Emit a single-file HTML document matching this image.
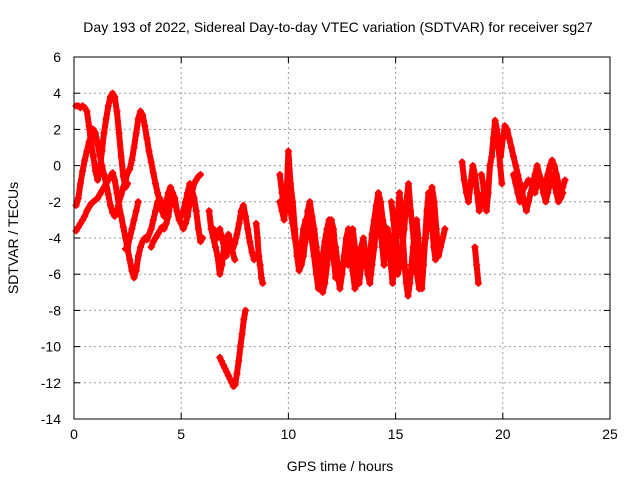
<!DOCTYPE html>
<html><head><meta charset="utf-8"><style>
body{margin:0;background:#fff;}
svg{display:block;font-family:"Liberation Sans",sans-serif;}
</style></head><body>
<svg id="chart" width="640" height="480">
<text x="338" y="32" font-size="14" text-anchor="middle">Day 193 of 2022, Sidereal Day-to-day VTEC variation (SDTVAR) for receiver sg27</text>
<text x="340" y="471" font-size="14" text-anchor="middle">GPS time / hours</text>
<text transform="translate(18,238) rotate(-90)" font-size="14" text-anchor="middle">SDTVAR / TECUs</text>
<g id="grid"></g><g id="marks"></g>
<rect x="74" y="57" width="536" height="362" fill="none" stroke="#000"/>
</svg>
<script>
const xTicks=[0,5,10,15,20,25];
const yTicks=[-14,-12,-10,-8,-6,-4,-2,0,2,4,6];
const trackStarts=[0.1,0.1,0.1,3.6,2.4,6.3,6.5,6.8,8.5,9.6,9.6,12.2,12.3,14.3,14.8,18.1,18.7,19.0,19.9,20.5];
const trackSteps=[0.1,0.1,0.1,0.1,0.1,0.1,0.1,0.08,0.06,0.1,0.1,0.1,0.1,0.08,0.1,0.1,0.08,0.08,0.1,0.1];
const track0=[3.3,3.3,3.2,3.3,3.2,3.0,2.2,1.2,0.5,-0.3,-0.8,-0.3,0.8,1.8,2.6,3.3,3.8,4.0,3.8,3.0,1.8,0.5,-0.6,-1.2,-1.0];
const track1=[-2.2,-1.8,-1.0,-0.3,0.3,0.8,1.3,1.7,2.0,1.8,1.2,0.6,0.0,-0.5,-1.0,-1.6,-2.2,-2.6,-2.8,-2.5,-2.0,-1.6,-1.2,-0.8,-0.4,-0.2,0.3,1.0,1.8,2.6,3.0,2.8,2.2,1.5,0.8,0.2,-0.4,-1.0,-1.5,-2.0,-2.5,-2.8];
const track2=[-3.6,-3.4,-3.2,-3.0,-2.8,-2.5,-2.3,-2.1,-2.0,-1.9,-1.8,-1.6,-1.4,-1.2,-1.0,-0.8,-0.6,-0.4,-0.8,-1.5,-2.2,-2.8,-3.4,-4.0,-4.6,-5.2,-5.8,-6.2,-5.8,-5.0,-4.5,-4.2,-4.0,-4.1,-3.8,-3.5,-3.0,-2.5,-2.0,-1.8,-2.2,-2.5,-2.0,-1.5,-1.2,-1.5,-2.0,-2.5,-3.0,-3.2,-3.5,-3.2,-2.8,-2.0,-1.5,-1.0,-0.8,-0.6,-0.5];
const track3=[-4.5,-4.2,-4.0,-3.8,-3.6,-3.4,-3.5,-3.2,-2.8,-2.0,-1.5,-1.8,-2.5,-3.0,-2.8,-2.5,-2.0,-1.5,-1.0,-1.3,-1.8,-2.5,-3.5,-4.2,-4.0];
const track4=[-4.6,-4.5,-4.0,-3.5,-3.0,-2.5,-2.0];
const track5=[-2.5,-3.5,-4.0,-4.5,-5.0,-6.0,-5.5,-4.5,-4.0,-3.8,-4.2,-4.6,-4.3,-3.8,-3.2,-2.5,-2.2,-2.8,-3.5,-4.2,-4.8,-5.2];
const track6=[-3.5,-3.8,-4.0,-3.5,-4.0,-4.5,-5.0,-4.5,-4.2,-4.8,-5.2];
const track7=[-10.6,-10.8,-11.0,-11.2,-11.4,-11.6,-11.8,-12.0,-12.2,-12.1,-11.5,-10.8,-10.0,-9.3,-8.5,-8.0];
const track8=[-3.2,-4.0,-5.0,-5.5,-6.2,-6.5];
const track9=[-0.5,-1.5,-2.5,-2.0,-1.5,-2.5,-3.2,-4.0,-4.8,-5.5,-4.5,-3.5,-3.0,-2.8,-3.5,-4.2,-5.0,-6.0,-6.8,-6.0,-5.0,-4.2,-3.5,-3.0,-3.8,-5.0,-6.2];
const track10=[-2.0,-2.5,-3.0,-2.0,0.8,-1.0,-2.0,-3.5,-5.0,-5.8,-5.5,-5.0,-4.0,-2.5,-2.0,-2.8,-3.5,-4.5,-5.5,-6.5,-7.0,-6.5,-5.5,-4.5,-3.0,-3.5,-4.8];
const track11=[-4.5,-5.5,-6.5,-6.0,-5.0,-4.0,-3.5,-4.5,-5.8,-6.8,-6.5,-5.5,-4.5,-4.0,-5.0,-6.0,-6.5,-5.5,-4.5,-3.5,-3.0,-2.5,-3.0,-3.5,-4.5];
const track12=[-6.0,-6.8,-6.0,-5.0,-4.5,-5.5,-4.0,-3.5,-4.5,-5.5,-6.5,-5.5,-4.5,-5.0,-6.0,-5.0,-3.8,-3.0,-2.2,-1.5,-2.0,-3.0,-4.0,-4.5];
const track13=[-3.5,-4.5,-5.5,-4.5,-3.5,-4.0,-5.5,-6.5,-5.5,-4.5,-3.0,-1.5,-2.5,-4.0,-5.5,-6.5,-7.2,-6.5,-5.5,-4.5,-3.5,-3.0,-4.0,-5.5,-6.8,-5.5,-4.0,-2.5,-1.5,-2.0,-3.2,-4.5,-5.2,-4.8,-4.5];
const track14=[-2.0,-3.0,-4.5,-6.0,-5.5,-4.5,-3.5,-2.0,-1.0,-2.5,-3.5,-5.0,-6.0,-6.8,-6.0,-5.0,-4.0,-3.0,-2.0,-1.2,-2.0,-3.5,-5.0,-4.5,-4.0,-3.5];
const track15=[0.2,-0.8,-1.5,-2.0,-1.0,0.0,-0.5,-1.5,-2.5,-2.0,-1.5];
const track16=[-4.5,-5.5,-6.5];
const track17=[-0.5,-1.0,-2.0,-2.5,-1.5,0.0,0.5,1.5,2.5,2.0,1.0,0.0,-1.0];
const track18=[0.5,1.5,2.2,2.0,1.5,1.0,0.5,0.0,-0.5,-1.0,-1.5,-2.0,-2.5,-2.0,-1.5,-1.0,-0.5,0.0,-0.5,-1.0,-1.5,-1.0,-0.5,0.0,0.3,0.0,-0.5,-1.0,-1.5,-1.2,-0.8];
const track19=[-0.5,-1.0,-1.5,-2.0,-1.5,-1.2,-1.0,-0.8,-1.0,-1.2,-1.5,-1.0,-0.5,-0.8,-1.5,-2.0,-1.5,-1.0,-0.5,-1.0,-1.5,-2.0,-1.8,-1.5];
const tracks=[track0,track1,track2,track3,track4,track5,track6,track7,track8,track9,track10,track11,track12,track13,track14,track15,track16,track17,track18,track19];

const X0=74,X1=610,Y0=419,Y1=57;
const xs=v=>X0+(v-0)/(25-0)*(X1-X0);
const ys=v=>Y0-(v+14)/(20)*(Y0-Y1);
const NS='http://www.w3.org/2000/svg';
const grid=document.getElementById('grid'),marks=document.getElementById('marks');
function mk(tag,attrs,parent){const e=document.createElementNS(NS,tag);for(const k in attrs)e.setAttribute(k,attrs[k]);parent.appendChild(e);return e;}
xTicks.forEach(t=>{const x=xs(t);
 if(t>0&&t<25){const g=mk('line',{x1:x,x2:x,y1:Y1,y2:Y0,stroke:'#999','stroke-dasharray':'2,3'},grid);
 
 }
 mk('line',{x1:x,x2:x,y1:Y0,y2:Y0-6,stroke:'#000'},grid);
 mk('line',{x1:x,x2:x,y1:Y1,y2:Y1+6,stroke:'#000'},grid);
 const l=mk('text',{x:x,y:Y0+20,'font-size':14,'text-anchor':'middle'},grid);l.textContent=t;
 
 
});
yTicks.forEach(t=>{const y=ys(t);
 if(t>-14&&t<6){const g=mk('line',{x1:X0,x2:X1,y1:y,y2:y,stroke:'#999','stroke-dasharray':'2,3'},grid);
 
 }
 mk('line',{x1:X0,x2:X0+6,y1:y,y2:y,stroke:'#000'},grid);
 mk('line',{x1:X1,x2:X1-6,y1:y,y2:y,stroke:'#000'},grid);
 const l=mk('text',{x:X0-13,y:y+5,'font-size':14,'text-anchor':'end'},grid);l.textContent=t;
 
 
});
let d='',band='';
tracks.forEach((vals,i)=>{vals.forEach((v,j)=>{const t=trackStarts[i]+j*trackSteps[i];const x=xs(t),y=ys(v);
 band+=(j===0?'M':'L')+x.toFixed(1)+' '+y.toFixed(1);
 d+=`M${(x-3.5).toFixed(1)} ${y.toFixed(1)}h7M${x.toFixed(1)} ${(y-3.5).toFixed(1)}v7`;});});
const b=mk('path',{d:band,stroke:'#f00','stroke-width':6,fill:'none','stroke-linejoin':'round','stroke-linecap':'round'},marks);


const p=mk('path',{d:d,stroke:'#f00','stroke-width':1.6,fill:'none'},marks);


</script>
</body></html>
